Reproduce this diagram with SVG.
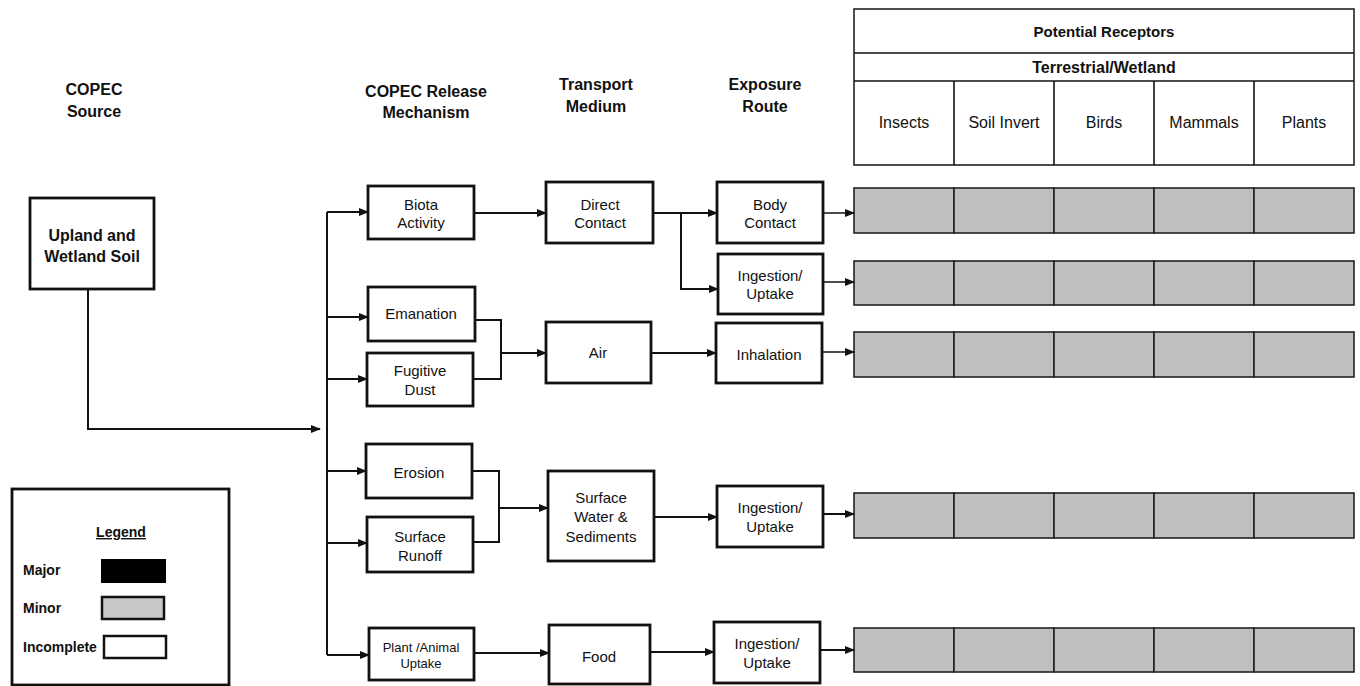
<svg xmlns="http://www.w3.org/2000/svg" width="1360" height="686" viewBox="0 0 1360 686">
<style>
text{font-family:"Liberation Sans",Arial,sans-serif;fill:#111;text-anchor:middle}
.h{font-size:16px;font-weight:bold}
.b{font-size:15px}
.sb{font-size:16px;font-weight:bold}
.sm{font-size:13px}
.cat{font-size:16px}
.lg{font-size:14px;font-weight:bold;text-anchor:start}
.box{fill:#fff;stroke:#111;stroke-width:2.8}
.cell{fill:#bfbfbf;stroke:#222;stroke-width:1.6}
.hdr{fill:#fff;stroke:#222;stroke-width:1.6}
.ln{fill:none;stroke:#111;stroke-width:2}
</style>
<defs>
<marker id="ar" markerWidth="10" markerHeight="8" refX="9" refY="4" orient="auto" markerUnits="userSpaceOnUse">
<path d="M0,0 L10,4 L0,8 Z" fill="#111"/>
</marker>
</defs>

<g id="headers">
<text class="h" x="94" y="95">COPEC</text>
<text class="h" x="94" y="117">Source</text>
<text class="h" x="426" y="97">COPEC Release</text>
<text class="h" x="426" y="118">Mechanism</text>
<text class="h" x="596" y="90">Transport</text>
<text class="h" x="596" y="112">Medium</text>
<text class="h" x="765" y="90">Exposure</text>
<text class="h" x="765" y="112">Route</text>
</g>

<g id="receptors-header">
<rect class="hdr" x="854" y="9" width="500" height="156"/>
<line class="ln" x1="854" y1="53" x2="1354" y2="53" style="stroke-width:1.6"/>
<line class="ln" x1="854" y1="81" x2="1354" y2="81" style="stroke-width:1.6"/>
<line class="ln" x1="954" y1="81" x2="954" y2="165" style="stroke-width:1.6"/>
<line class="ln" x1="1054" y1="81" x2="1054" y2="165" style="stroke-width:1.6"/>
<line class="ln" x1="1154" y1="81" x2="1154" y2="165" style="stroke-width:1.6"/>
<line class="ln" x1="1254" y1="81" x2="1254" y2="165" style="stroke-width:1.6"/>
<text class="h" x="1104" y="37" style="font-size:15px">Potential Receptors</text>
<text class="h" x="1104" y="73">Terrestrial/Wetland</text>
<text class="cat" x="904" y="128">Insects</text>
<text class="cat" x="1004" y="128">Soil Invert</text>
<text class="cat" x="1104" y="128">Birds</text>
<text class="cat" x="1204" y="128">Mammals</text>
<text class="cat" x="1304" y="128">Plants</text>
</g>

<g id="source">
<rect class="box" x="30" y="198" width="124" height="91"/>
<text class="sb" x="92" y="241">Upland and</text>
<text class="sb" x="92" y="262">Wetland Soil</text>
</g>

<g id="biota">
<rect class="box" x="368" y="186" width="106" height="53"/>
<text class="b" x="421" y="210">Biota</text>
<text class="b" x="421" y="228">Activity</text>
</g>
<g id="emanation">
<rect class="box" x="368" y="287" width="107" height="54"/>
<text class="b" x="421" y="319">Emanation</text>
</g>
<g id="fugitive">
<rect class="box" x="367" y="353" width="106" height="53"/>
<text class="b" x="420" y="376">Fugitive</text>
<text class="b" x="420" y="395">Dust</text>
</g>
<g id="erosion">
<rect class="box" x="366" y="444" width="106" height="54"/>
<text class="b" x="419" y="478">Erosion</text>
</g>
<g id="runoff">
<rect class="box" x="367" y="517" width="106" height="55"/>
<text class="b" x="420" y="542">Surface</text>
<text class="b" x="420" y="561">Runoff</text>
</g>
<g id="plantanimal">
<rect class="box" x="369" y="628" width="105" height="52"/>
<text class="sm" x="421" y="652">Plant /Animal</text>
<text class="sm" x="421" y="668">Uptake</text>
</g>

<g id="direct">
<rect class="box" x="546" y="182" width="107" height="61"/>
<text class="b" x="600" y="210">Direct</text>
<text class="b" x="600" y="228">Contact</text>
</g>
<g id="air">
<rect class="box" x="546" y="322" width="105" height="61"/>
<text class="b" x="598" y="358">Air</text>
</g>
<g id="surfacewater">
<rect class="box" x="548" y="471" width="106" height="90"/>
<text class="b" x="601" y="503">Surface</text>
<text class="b" x="601" y="522">Water &amp;</text>
<text class="b" x="601" y="542">Sediments</text>
</g>
<g id="food">
<rect class="box" x="549" y="625" width="101" height="59"/>
<text class="b" x="599" y="662">Food</text>
</g>

<g id="bodycontact">
<rect class="box" x="717" y="182" width="106" height="61"/>
<text class="b" x="770" y="210">Body</text>
<text class="b" x="770" y="228">Contact</text>
</g>
<g id="ingestion1">
<rect class="box" x="718" y="254" width="105" height="60"/>
<text class="b" x="770" y="281">Ingestion/</text>
<text class="b" x="770" y="299">Uptake</text>
</g>
<g id="inhalation">
<rect class="box" x="716" y="323" width="106" height="60"/>
<text class="b" x="769" y="360">Inhalation</text>
</g>
<g id="ingestion2">
<rect class="box" x="717" y="486" width="106" height="61"/>
<text class="b" x="770" y="513">Ingestion/</text>
<text class="b" x="770" y="532">Uptake</text>
</g>
<g id="ingestion3">
<rect class="box" x="714" y="622" width="106" height="61"/>
<text class="b" x="767" y="649">Ingestion/</text>
<text class="b" x="767" y="668">Uptake</text>
</g>

<g id="receptor-rows">
<g id="row1">
<rect class="cell" x="854" y="188" width="100" height="45"/><rect class="cell" x="954" y="188" width="100" height="45"/><rect class="cell" x="1054" y="188" width="100" height="45"/><rect class="cell" x="1154" y="188" width="100" height="45"/><rect class="cell" x="1254" y="188" width="100" height="45"/>
</g>
<g id="row2">
<rect class="cell" x="854" y="261" width="100" height="44"/><rect class="cell" x="954" y="261" width="100" height="44"/><rect class="cell" x="1054" y="261" width="100" height="44"/><rect class="cell" x="1154" y="261" width="100" height="44"/><rect class="cell" x="1254" y="261" width="100" height="44"/>
</g>
<g id="row3">
<rect class="cell" x="854" y="332" width="100" height="45"/><rect class="cell" x="954" y="332" width="100" height="45"/><rect class="cell" x="1054" y="332" width="100" height="45"/><rect class="cell" x="1154" y="332" width="100" height="45"/><rect class="cell" x="1254" y="332" width="100" height="45"/>
</g>
<g id="row4">
<rect class="cell" x="854" y="493" width="100" height="45"/><rect class="cell" x="954" y="493" width="100" height="45"/><rect class="cell" x="1054" y="493" width="100" height="45"/><rect class="cell" x="1154" y="493" width="100" height="45"/><rect class="cell" x="1254" y="493" width="100" height="45"/>
</g>
<g id="row5">
<rect class="cell" x="854" y="628" width="100" height="44"/><rect class="cell" x="954" y="628" width="100" height="44"/><rect class="cell" x="1054" y="628" width="100" height="44"/><rect class="cell" x="1154" y="628" width="100" height="44"/><rect class="cell" x="1254" y="628" width="100" height="44"/>
</g>
</g>

<g id="connectors">
<path class="ln" d="M88,289 V429 H320" marker-end="url(#ar)"/>
<path class="ln" d="M327,212 V655"/>
<path class="ln" d="M327,212 H368" marker-end="url(#ar)"/>
<path class="ln" d="M327,317 H368" marker-end="url(#ar)"/>
<path class="ln" d="M327,379 H367" marker-end="url(#ar)"/>
<path class="ln" d="M327,471 H366" marker-end="url(#ar)"/>
<path class="ln" d="M327,543 H367" marker-end="url(#ar)"/>
<path class="ln" d="M327,655 H369" marker-end="url(#ar)"/>
<path class="ln" d="M474,213 H546" marker-end="url(#ar)"/>
<path class="ln" d="M475,320 H501 V379 H473"/>
<path class="ln" d="M501,353 H546" marker-end="url(#ar)"/>
<path class="ln" d="M472,471 H499 V542 H473"/>
<path class="ln" d="M499,508 H548" marker-end="url(#ar)"/>
<path class="ln" d="M474,653 H549" marker-end="url(#ar)"/>
<path class="ln" d="M653,213 H717" marker-end="url(#ar)"/>
<path class="ln" d="M681,213 V289 H718" marker-end="url(#ar)"/>
<path class="ln" d="M651,353 H716" marker-end="url(#ar)"/>
<path class="ln" d="M654,517 H717" marker-end="url(#ar)"/>
<path class="ln" d="M650,652 H714" marker-end="url(#ar)"/>
<path class="ln" d="M823,213 H854" marker-end="url(#ar)" style="stroke-width:1.5"/>
<path class="ln" d="M823,282 H854" marker-end="url(#ar)" style="stroke-width:1.5"/>
<path class="ln" d="M822,352 H854" marker-end="url(#ar)" style="stroke-width:1.5"/>
<path class="ln" d="M823,514 H854" marker-end="url(#ar)"/>
<path class="ln" d="M820,650 H854" marker-end="url(#ar)"/>
</g>

<g id="legend">
<rect class="box" x="12" y="489" width="217" height="196"/>
<text x="121" y="537" style="font-size:14px;font-weight:bold;text-decoration:underline">Legend</text>
<text class="lg" x="23" y="575">Major</text>
<rect x="102" y="560" width="63" height="22" fill="#000" stroke="#000" stroke-width="2"/>
<text class="lg" x="23" y="613">Minor</text>
<rect x="102" y="597" width="62" height="22" fill="#c8c8c8" stroke="#111" stroke-width="2.5"/>
<text class="lg" x="23" y="652">Incomplete</text>
<rect x="104" y="636" width="62" height="22" fill="#fff" stroke="#111" stroke-width="2.5"/>
</g>
</svg>
